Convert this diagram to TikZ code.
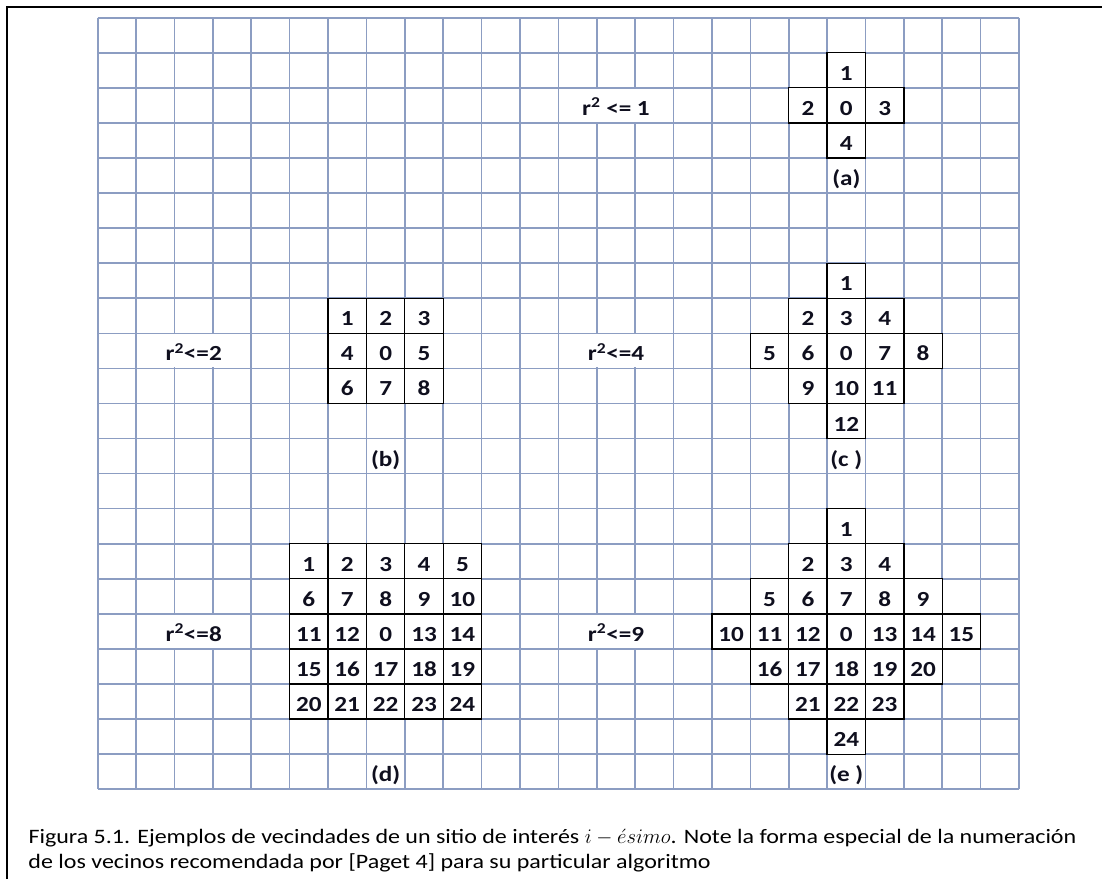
\documentclass[tikz,border=0pt]{standalone}
\usepackage{fontspec}
\setmainfont{Carlito}[FakeStretch=1.17]
\definecolor{gridblue}{RGB}{140,157,194}
\definecolor{inkblack}{RGB}{15,15,30}
\begin{document}
\begin{tikzpicture}[
  x=1pt, y=-1pt,
  frame/.style={draw=black, line width=2pt},
  gridline/.style={draw=gridblue, line width=1.6pt},
  sitebox/.style={draw=black, line width=1.3pt, fill=white, inner sep=0pt,
    minimum width=38.39pt, minimum height=35.07pt, text=inkblack,
    text height=20pt, text depth=0pt, font=\bfseries\fontsize{21.5}{21.5}\selectfont},
  tagtext/.style={inner sep=0pt, text=inkblack, text height=20pt, text depth=0pt,
    font=\bfseries\fontsize{21.5}{21.5}\selectfont},
  rtext/.style={fill=white, inner sep=0pt, minimum width=113pt, minimum height=33pt,
    text=inkblack, text height=20pt, text depth=0pt,
    font=\bfseries\fontsize{21.5}{21.5}\selectfont},
  captext/.style={inner sep=0pt, anchor=base west, align=left,
    font=\fontsize{20.5}{25}\selectfont}
]
  \useasboundingbox (0,0) rectangle (1102,879);

  %% ============================================ the page frame
  \draw[frame] (7,879) -- (7,7) -- (1102,7);

  %% ============================================ squared paper, 24 x 22 cells
  \begin{scope}[shift={(97.7,17.7)}, x=38.39pt, y=-35.07pt]
    \foreach \i in {0,...,24} \draw[gridline] (\i,0) -- (\i,22);
    \foreach \j in {0,...,22} \draw[gridline] (0,\j) -- (24,\j);

    %% ---------------------------------------- (a) r^2 <= 1
    \node[rtext] (ra) at (13.5,2.5) {r\textsuperscript{2} <= 1};
    \foreach \c/\r/\t in {19/1/1, 18/2/2, 19/2/0, 20/2/3, 19/3/4}
      \node[sitebox] (a\t) at (\c+0.5,\r+0.5) {\t};
    \node[tagtext] (ta) at (19.5,4.5) {(a)};

    %% ---------------------------------------- (b) r^2 <= 2
    \node[rtext] (rb) at (2.5,9.5) {r\textsuperscript{2}<=2};
    \foreach \c/\r/\t in {6/8/1, 7/8/2, 8/8/3, 6/9/4, 7/9/0, 8/9/5,
                          6/10/6, 7/10/7, 8/10/8}
      \node[sitebox] (b\t) at (\c+0.5,\r+0.5) {\t};
    \node[tagtext] (tb) at (7.5,12.5) {(b)};

    %% ---------------------------------------- (c) r^2 <= 4
    \node[rtext] (rc) at (13.5,9.5) {r\textsuperscript{2}<=4};
    \foreach \c/\r/\t in {19/7/1, 18/8/2, 19/8/3, 20/8/4,
                          17/9/5, 18/9/6, 19/9/0, 20/9/7, 21/9/8,
                          18/10/9, 19/10/10, 20/10/11, 19/11/12}
      \node[sitebox] (c\t) at (\c+0.5,\r+0.5) {\t};
    \node[tagtext] (tc) at (19.5,12.5) {(c )};

    %% ---------------------------------------- (d) r^2 <= 8
    \node[rtext] (rd) at (2.5,17.5) {r\textsuperscript{2}<=8};
    \foreach \c/\r/\t in {5/15/1, 6/15/2, 7/15/3, 8/15/4, 9/15/5,
                          5/16/6, 6/16/7, 7/16/8, 8/16/9, 9/16/10,
                          5/17/11, 6/17/12, 7/17/0, 8/17/13, 9/17/14,
                          5/18/15, 6/18/16, 7/18/17, 8/18/18, 9/18/19,
                          5/19/20, 6/19/21, 7/19/22, 8/19/23, 9/19/24}
      \node[sitebox] (d\t) at (\c+0.5,\r+0.5) {\t};
    \node[tagtext] (td) at (7.5,21.5) {(d)};

    %% ---------------------------------------- (e) r^2 <= 9
    \node[rtext] (re) at (13.5,17.5) {r\textsuperscript{2}<=9};
    \foreach \c/\r/\t in {19/14/1, 18/15/2, 19/15/3, 20/15/4,
                          17/16/5, 18/16/6, 19/16/7, 20/16/8, 21/16/9,
                          16/17/10, 17/17/11, 18/17/12, 19/17/0, 20/17/13,
                          21/17/14, 22/17/15,
                          17/18/16, 18/18/17, 19/18/18, 20/18/19, 21/18/20,
                          18/19/21, 19/19/22, 20/19/23, 19/20/24}
      \node[sitebox] (e\t) at (\c+0.5,\r+0.5) {\t};
    \node[tagtext] (te) at (19.5,21.5) {(e )};
  \end{scope}

  %% ============================================ caption (base = last line)
  \node[captext] (cap) at (28.3,868.3)
    {Figura 5.1. Ejemplos de vecindades de un sitio de interés $i-\acute{e}simo$. Note la forma especial de la numeración\\
     de los vecinos recomendada por [Paget 4] para su particular algoritmo};
\end{tikzpicture}
\end{document}
